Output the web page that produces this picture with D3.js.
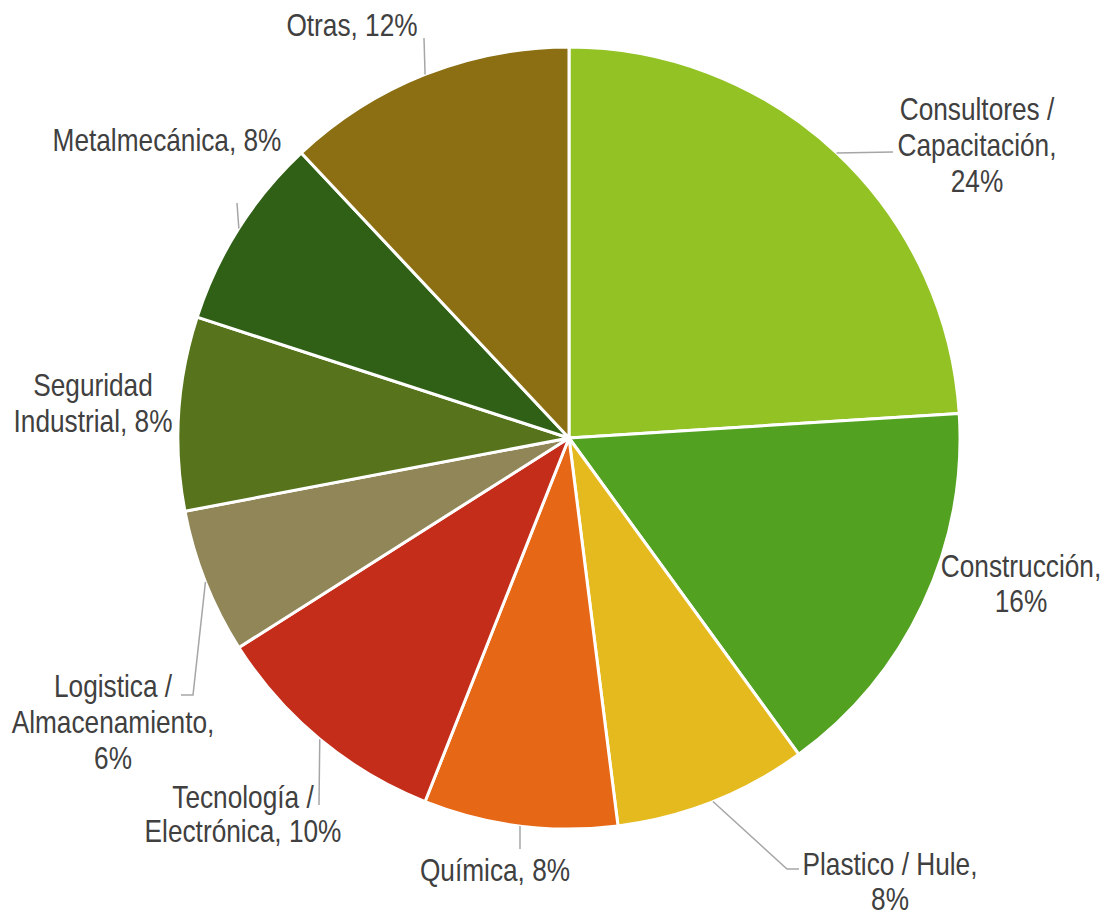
<!DOCTYPE html>
<html>
<head>
<meta charset="utf-8">
<script src="https://cdn.jsdelivr.net/npm/d3@7"></script>
<style>
  body { margin: 0; background: #fff; }
  text { font-family: "Liberation Sans", Arial, sans-serif; fill: #404040; }
</style>
</head>
<body>
<svg id="chart" width="1107" height="915"></svg>
<script>
// Sectores y porcentajes
const categories = ["Consultores / Capacitación", "Construcción", "Plastico / Hule", "Química",
  "Tecnología / Electrónica", "Logistica / Almacenamiento", "Seguridad Industrial", "Metalmecánica", "Otras"];
const values = [24, 16, 8, 8, 10, 6, 8, 8, 12];
const labelLines = [
  ["Consultores /", "Capacitación,", "24%"],
  ["Construcción,", "16%"],
  ["Plastico / Hule,", "8%"],
  ["Química, 8%"],
  ["Tecnología /", "Electrónica, 10%"],
  ["Logistica /", "Almacenamiento,", "6%"],
  ["Seguridad", "Industrial, 8%"],
  ["Metalmecánica, 8%"],
  ["Otras, 12%"]
];
const colors = ["#93c225", "#53a121", "#e5ba1f", "#e66817", "#c42d19", "#918657", "#57741c", "#306016", "#8b6f12"];

// label placement (center x, first baseline y, line pitch) and leader elbows
const labelLayout = [
  { x: 977, y: 120, dy: 36, leader: [[893, 152]] },
  { x: 1021, y: 577, dy: 35, leader: null },
  { x: 890, y: 875, dy: 35, leader: [[787, 869], [799, 869]] },
  { x: 495, y: 881, dy: 35, leader: [[520, 849]] },
  { x: 243, y: 808, dy: 34, leader: [[319, 805]] },
  { x: 113, y: 697, dy: 36, leader: [[193, 695], [181, 695]] },
  { x: 93, y: 396, dy: 36, leader: null },
  { x: 167, y: 151, dy: 35, leader: [[237, 203]] },
  { x: 352, y: 36, dy: 35, leader: [[424, 38]] }
];

const svg = d3.select("#chart");
const cx = 569, cy = 438, radius = 391;
const narrow = 0.82; // squeeze regular sans to look like a narrow face

const pie = d3.pie().sort(null).value(d => d);
const arcs = pie(values);
const arc = d3.arc().innerRadius(0).outerRadius(radius);

const g = svg.append("g").attr("transform", `translate(${cx},${cy})`);

g.selectAll("path")
  .data(arcs)
  .enter()
  .append("path")
  .attr("d", arc)
  .attr("fill", (d, i) => colors[i])
  .attr("stroke", "#fff")
  .attr("stroke-width", 3)
  .attr("stroke-linejoin", "round");

// leader lines from the slice edge to the label
arcs.forEach((d, i) => {
  const lay = labelLayout[i];
  if (!lay.leader) return;
  const a = (d.startAngle + d.endAngle) / 2;
  const start = [cx + radius * Math.sin(a), cy - radius * Math.cos(a)];
  svg.append("path")
    .attr("d", d3.line()([start, ...lay.leader]))
    .attr("fill", "none")
    .attr("stroke", "#a6a6a6")
    .attr("stroke-width", 1.5);
});

// labels
labelLines.forEach((lines, i) => {
  const lay = labelLayout[i];
  const t = svg.append("g")
    .attr("transform", `translate(${lay.x},${lay.y}) scale(${narrow},1)`)
    .append("text")
    .attr("text-anchor", "middle")
    .style("font-size", "32px");
  lines.forEach((s, j) => {
    t.append("tspan")
      .attr("x", 0)
      .attr("y", j * lay.dy)
      .text(s);
  });
});
</script>
</body>
</html>
